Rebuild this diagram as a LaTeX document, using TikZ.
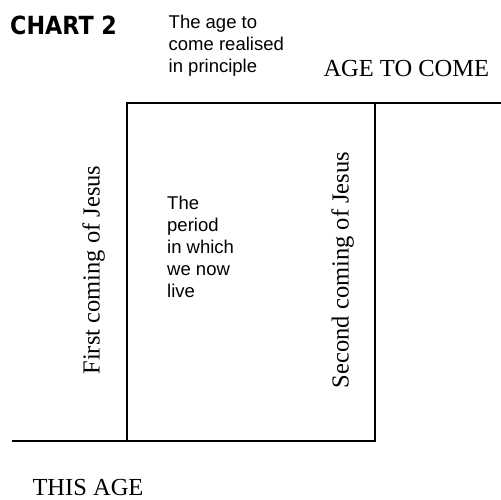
\documentclass[tikz,border=0pt]{standalone}
\usepackage{fontspec}
\setmainfont{Liberation Serif}
\newfontfamily\arialf{Liberation Sans}
\newfontfamily\chartf{DejaVu Sans}
\begin{document}
\begin{tikzpicture}[x=1pt,y=1pt,
  rule/.style={line width=1.7pt, line cap=rect},
  serifbig/.style={inner sep=0pt, font=\fontsize{24.5}{29}\selectfont},
  sanstext/.style={inner sep=0pt, anchor=base west, font=\arialf\fontsize{18.5}{22.2}\selectfont},
  vlabel/.style={inner sep=0pt, anchor=base, rotate=90, font=\fontsize{24.5}{29}\selectfont}]
\useasboundingbox (0,0) rectangle (501,-500);
% frame coordinates
\coordinate (A) at (126.7,-102.7);
\coordinate (B) at (375,-102.7);
\coordinate (E) at (501,-102.7);
\coordinate (C) at (126.7,-441.3);
\coordinate (D) at (375,-441.3);
\coordinate (S) at (13.3,-441.3);
\draw[rule] (S) -- (D);
\draw[rule] (A) -- (C);
\draw[rule] (B) -- (D);
\draw[rule] (A) -- (E);
% texts
\node[inner sep=0pt, anchor=base west, font=\chartf\bfseries\fontsize{25}{30}\selectfont] (title) at (10,-34.3) {\scalebox{0.89}[1]{CHART 2}};
\node[sanstext] (principle) at (168.5,-28.3) {\begin{tabular}[t]{@{}l@{}}The age to\\ come realised\\ in principle\end{tabular}};
\node[sanstext] (period) at (167,-209) {\begin{tabular}[t]{@{}l@{}}The\\ period\\ in which\\ we now\\ live\end{tabular}};
\node[serifbig, anchor=base west] (agetocome) at (323.3,-76.7) {AGE TO COME};
\node[serifbig, anchor=base west] (thisage) at (32.3,-495) {THIS AGE};
\node[vlabel] (first) at (99.5,-270) {First coming of Jesus};
\node[vlabel] (second) at (348.5,-270) {Second coming of Jesus};
\end{tikzpicture}
\end{document}
